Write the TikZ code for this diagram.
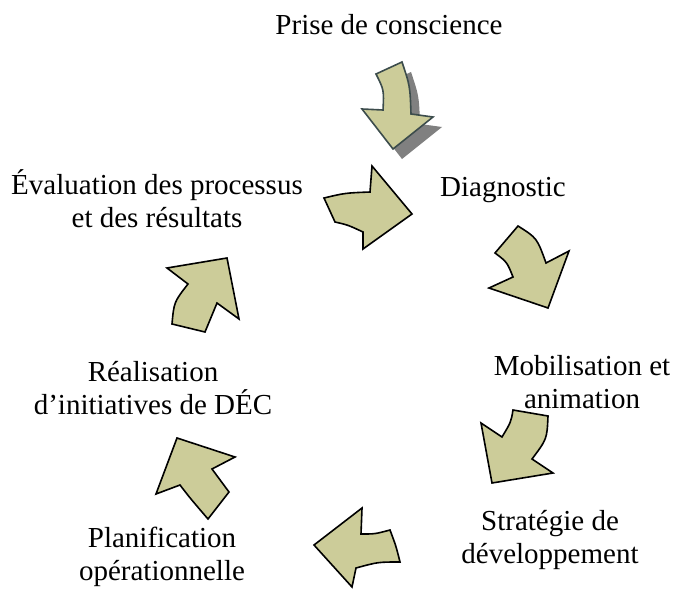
\documentclass[tikz,border=0pt]{standalone}
\usepackage{fontspec}
\setmainfont{Liberation Serif}
\definecolor{khaki}{RGB}{204,204,153}
\definecolor{shadowgray}{RGB}{128,128,128}
\definecolor{slate}{RGB}{60,76,76}
\begin{document}
\begin{tikzpicture}[x=1pt,y=-1pt,
  lbl/.style={font=\fontsize{29}{33}\selectfont, inner sep=0pt, align=center, anchor=base},
  blockarrow/.style={fill=khaki, draw=black, line width=1.6pt, line join=miter}]
\useasboundingbox (0,0) rectangle (676,588);

% labels (anchor=base is the baseline of the last line)
\node[lbl] (prise) at (389,35) {Prise de conscience};
\node[lbl] (diag) at (503,196) {Diagnostic};
\node[lbl] (mobil) at (582,408) {Mobilisation et\\animation};
\node[lbl] (strat) at (550,563) {Stratégie de\\développement};
\node[lbl] (planif) at (162,580) {Planification\\opérationnelle};
\node[lbl] (real) at (153,414) {Réalisation\\d’initiatives de DÉC};
\node[lbl] (eval) at (157,227) {Évaluation des processus\\et des résultats};

% arrow 1 (top) with shadow
\begin{scope}[shift={(9,10)}]
\fill[shadowgray] (376,74) -- (402,62) .. controls (410,86) .. (411,114) -- (433,117) -- (393,149) -- (362,109) -- (383,110) .. controls (384,90) .. cycle;
\end{scope}
\draw[blockarrow, draw=slate] (376,74) -- (402,62) .. controls (410,86) .. (411,114) -- (433,117) -- (393,149) -- (362,109) -- (383,110) .. controls (384,90) .. cycle;

% arrow 2 (towards Diagnostic)
\draw[blockarrow] (324,198) .. controls (345,193) .. (370,192) -- (372,166) -- (412,214) -- (363,249) -- (363,232) .. controls (348,225) .. (335,222) -- cycle;

% arrow 3
\draw[blockarrow] (518,226) -- (495,253) .. controls (507,262) .. (513,277) -- (489,288) -- (548,308) -- (569,251) -- (546,263) .. controls (537,238) .. cycle;

% arrow 4
\draw[blockarrow] (513,410) -- (548,416) .. controls (547,439) .. (532,459) -- (553,473) -- (492,483) -- (481,423) -- (502,437) .. controls (511,422) .. cycle;

% arrow 5
\draw[blockarrow] (314,545) -- (362,508) -- (361,534) .. controls (375,534) .. (390,530) .. controls (396,546) .. (400,562) .. controls (378,562) .. (356,568) -- (352,587) -- cycle;

% arrow 6
\draw[blockarrow] (177,438) -- (235,457) -- (212,469) .. controls (220,481) .. (229,492) -- (208,519) .. controls (190,498) .. (180,485) -- (156,494) -- cycle;

% arrow 7
\draw[blockarrow] (167,268) -- (227,258) -- (239,319) -- (217,303) .. controls (211,318) .. (205,332) -- (172,324) .. controls (174,302) .. (188,284) -- cycle;
\end{tikzpicture}
\end{document}
